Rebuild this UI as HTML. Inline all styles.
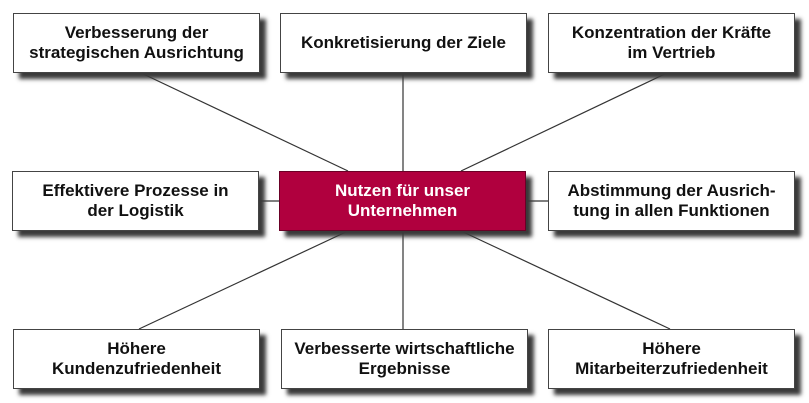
<!DOCTYPE html>
<html><head><meta charset="utf-8"><style>
html,body{margin:0;padding:0;background:#fff;}
body{width:809px;height:403px;position:relative;overflow:hidden;font-family:"Liberation Sans",Arial,sans-serif;}
.b{position:absolute;box-sizing:border-box;width:247px;height:60px;background:#fff;border:1.5px solid #444;
box-shadow:6px 6px 4px #3a3a3a;display:flex;align-items:center;justify-content:center;text-align:center;
font-weight:bold;font-size:17px;line-height:20px;color:#111;white-space:nowrap;}
.c{background:#b0003e;color:#fff;border-color:#6a0026;}
svg{position:absolute;left:0;top:0;}
</style></head><body>
<svg width="809" height="403"><g stroke="#333" stroke-width="1.2">
<line x1="139" y1="72" x2="348" y2="171"/>
<line x1="403" y1="72" x2="403" y2="171"/>
<line x1="669" y1="72" x2="461" y2="171"/>
<line x1="258" y1="201" x2="279" y2="201"/>
<line x1="527" y1="201" x2="548" y2="201"/>
<line x1="348" y1="231" x2="139" y2="329"/>
<line x1="403" y1="231" x2="403" y2="329"/>
<line x1="461" y1="231" x2="670" y2="329"/>
</g></svg>
<div class="b" style="left:13px;top:13px">Verbesserung der<br>strategischen Ausrichtung</div>
<div class="b" style="left:280px;top:13px">Konkretisierung der Ziele</div>
<div class="b" style="left:548px;top:13px">Konzentration der Kräfte<br>im Vertrieb</div>
<div class="b" style="left:12px;top:171px">Effektivere Prozesse in<br>der Logistik</div>
<div class="b c" style="left:279px;top:171px">Nutzen für unser<br>Unternehmen</div>
<div class="b" style="left:548px;top:171px">Abstimmung der Ausrich-<br>tung in allen Funktionen</div>
<div class="b" style="left:13px;top:329px">Höhere<br>Kundenzufriedenheit</div>
<div class="b" style="left:281px;top:329px">Verbesserte wirtschaftliche<br>Ergebnisse</div>
<div class="b" style="left:548px;top:329px">Höhere<br>Mitarbeiterzufriedenheit</div>
</body></html>
